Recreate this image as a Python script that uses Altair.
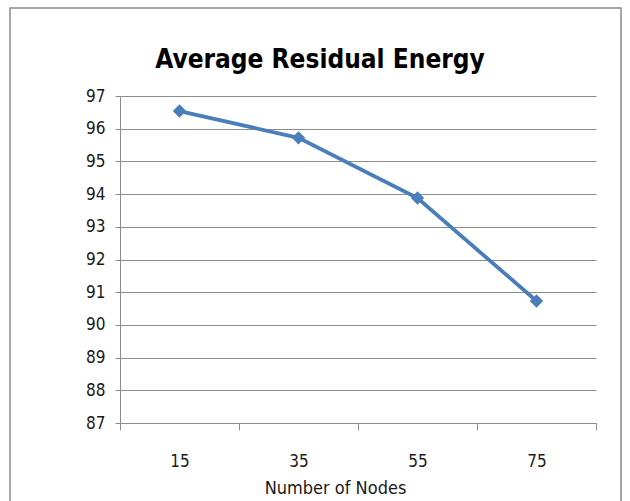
import altair as alt
import pandas as pd

nodes = ["15", "35", "55", "75"]
energy = [96.54, 95.72, 93.88, 90.73]
y_ticks = [87, 88, 89, 90, 91, 92, 93, 94, 95, 96, 97]
title_text = ["Average Residual Energy"]

df = pd.DataFrame({"nodes": nodes, "energy": energy})
tdf = pd.DataFrame({"t": title_text})

FONT = "'Liberation Sans Narrow', 'DejaVu Sans Condensed', 'Liberation Sans', sans-serif"
BLUE = "#4a7ebb"
GRID = "#8c8c8c"

x_enc = alt.X(
    "nodes:O",
    sort=nodes,
    bandPosition=0.5,
    scale=alt.Scale(type="band", paddingInner=0, paddingOuter=0),
    axis=alt.Axis(
        title="Number of Nodes",
        labelAngle=0,
        tickBand="extent",
        grid=False,
        domainColor=GRID,
        tickColor=GRID,
        tickSize=7,
        labelPadding=23,
        labelFontSize=17,
        labelColor="#1a1a1a",
        titleFontSize=18,
        titleFontWeight="normal",
        titleColor="#1a1a1a",
        titleX=215,
        titleY=70,
        titleBaseline="alphabetic",
    ),
)
y_enc = alt.Y(
    "energy:Q",
    scale=alt.Scale(domain=[87, 97], nice=False, zero=False),
    axis=alt.Axis(
        title=None,
        values=y_ticks,
        format="d",
        grid=True,
        gridColor=GRID,
        gridWidth=1,
        domainColor=GRID,
        tickColor=GRID,
        tickSize=5,
        labelPadding=10,
        labelFontSize=17,
        labelColor="#1a1a1a",
    ),
)

line = alt.Chart(df).mark_line(color=BLUE, strokeWidth=3.8).encode(x=x_enc, y=y_enc)
pts = alt.Chart(df).mark_point(
    shape="diamond", filled=True, color=BLUE, size=180, opacity=1
).encode(x=x_enc, y=y_enc)

border = alt.Chart(tdf).mark_rect(
    fill=None, stroke="#8a8a8a", strokeWidth=1.5, clip=False
).encode(
    x=alt.value(-110), x2=alt.value(501), y=alt.value(-88), y2=alt.value(420)
)

title = alt.Chart(tdf).mark_text(
    font=FONT, fontSize=26, fontWeight="bold", color="#000000",
    align="center", baseline="alphabetic",
).encode(text="t:N", x=alt.value(200), y=alt.value(-28))

chart = alt.layer(border, line, pts, title).properties(
    width=476,
    height=327,
    autosize=alt.AutoSizeParams(type="none"),
    padding={"left": 120, "top": 96, "right": 34, "bottom": 78},
).configure(font=FONT, background="white").configure_view(stroke=None)

chart.save("out.html", embed_options={"renderer": "svg", "actions": False})
